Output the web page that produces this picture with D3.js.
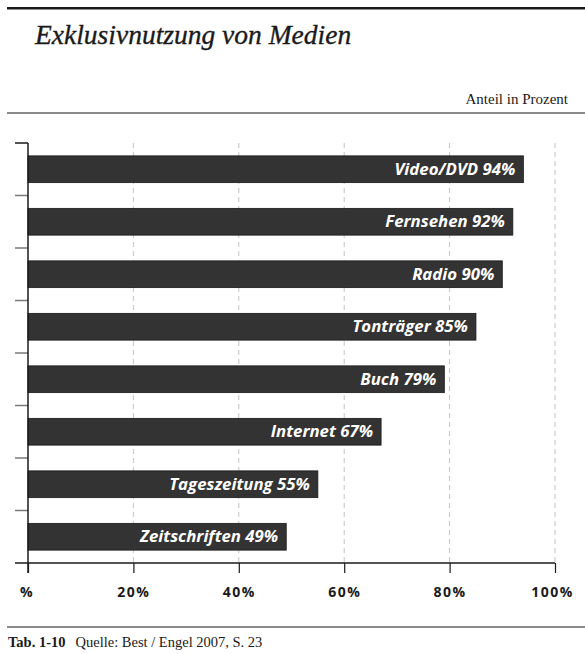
<!DOCTYPE html>
<html>
<head>
<meta charset="utf-8">
<script src="https://cdn.jsdelivr.net/npm/d3@7"></script>
<style>
  html, body { margin: 0; padding: 0; background: #fff; }
  svg { display: block; }
</style>
</head>
<body>
<script>
// Media categories and their share of exclusive use (percent)
const categories = ["Video/DVD", "Fernsehen", "Radio", "Tonträger", "Buch", "Internet", "Tageszeitung", "Zeitschriften"];
const values = [94, 92, 90, 85, 79, 67, 55, 49];
const tickValues = [0, 20, 40, 60, 80, 100];
const tickLabels = ["%", "20%", "40%", "60%", "80%", "100%"];

const W = 585, H = 654;
const svg = d3.select("body").append("svg").attr("width", W).attr("height", H);

const serif = "'Liberation Serif', 'DejaVu Serif', serif";
const sans = "'Open Sans', 'DejaVu Sans', sans-serif";

// Header rules and titles
svg.append("rect").attr("x", 7).attr("y", 7).attr("width", W - 7).attr("height", 2.5).attr("fill", "#1a1a1a");
svg.append("text").attr("x", 35).attr("y", 44)
  .attr("font-family", serif).attr("font-style", "italic").attr("font-size", 27.5)
  .attr("fill", "#1a1a1a").attr("stroke", "#1a1a1a").attr("stroke-width", 0.35)
  .text("Exklusivnutzung von Medien");
svg.append("text").attr("x", 568).attr("y", 104).attr("text-anchor", "end")
  .attr("font-family", serif).attr("font-size", 15).attr("fill", "#1a1a1a").text("Anteil in Prozent");
svg.append("rect").attr("x", 7).attr("y", 112).attr("width", W - 7).attr("height", 2).attr("fill", "#8a8a8a");

// Scales
const x0 = 28, x1 = 555, yTop = 143, yBot = 563;
const x = d3.scaleLinear().domain([0, 100]).range([x0, x1]);
const y = d3.scaleBand().domain(categories).range([yTop, yBot]).padding(0);
const barH = y.bandwidth() * 0.51;

// Dashed vertical gridlines
svg.append("g").selectAll("line").data(tickValues.filter(d => d > 0)).join("line")
  .attr("x1", d => x(d)).attr("x2", d => x(d))
  .attr("y1", yTop).attr("y2", yBot)
  .attr("stroke", "#c4c4c4").attr("stroke-width", 1).attr("stroke-dasharray", "5,4");

// Category separator ticks on the left
const sepY = categories.map(c => y(c));
svg.append("g").selectAll("line").data(sepY).join("line")
  .attr("x1", 15).attr("x2", x0).attr("y1", d => d).attr("y2", d => d)
  .attr("stroke", (d, i) => i === 0 ? "#1a1a1a" : "#7a7a7a").attr("stroke-width", 1.5);

// Bars
svg.append("g").selectAll("rect").data(categories).join("rect")
  .attr("x", x(0))
  .attr("y", c => y(c) + (y.bandwidth() - barH) / 2)
  .attr("width", (c, i) => x(values[i]) - x(0))
  .attr("height", barH)
  .attr("fill", "#333333").attr("stroke", "#1a1a1a").attr("stroke-width", 0.8);

// Labels inside bar ends
svg.append("g").selectAll("text").data(categories).join("text")
  .attr("x", (c, i) => x(values[i]) - 8)
  .attr("y", c => y(c) + y.bandwidth() / 2 + 5.5)
  .attr("text-anchor", "end")
  .attr("font-family", sans).attr("font-weight", 700).attr("font-style", "italic")
  .attr("font-size", 16.8).attr("fill", "#ffffff")
  .text((c, i) => `${c} ${values[i]}%`);

// Vertical axis line
svg.append("line").attr("x1", x0).attr("x2", x0).attr("y1", yTop).attr("y2", yBot + 10)
  .attr("stroke", "#1a1a1a").attr("stroke-width", 1.5);

// Horizontal axis with downward ticks
const xAxis = d3.axisBottom(x).tickValues(tickValues).tickSize(10)
  .tickFormat((d, i) => tickLabels[i]);
const gx = svg.append("g").attr("transform", `translate(0,${yBot})`).call(xAxis);
gx.select(".domain").remove();
gx.selectAll(".tick line").attr("stroke", "#1a1a1a").attr("stroke-width", 1.2);
gx.selectAll(".tick text")
  .attr("y", 24)
  .attr("font-family", sans).attr("font-weight", 700).attr("font-size", 14)
  .attr("letter-spacing", 1.5).attr("fill", "#1a1a1a");
gx.selectAll(".tick text").filter(d => d === 0).attr("dx", -1.5);
gx.selectAll(".tick text").filter(d => d === 100).attr("dx", -3);
svg.append("line").attr("x1", 15).attr("x2", x1).attr("y1", yBot).attr("y2", yBot)
  .attr("stroke", "#1a1a1a").attr("stroke-width", 1.5);

// Footer
svg.append("rect").attr("x", 7).attr("y", 626).attr("width", W - 7).attr("height", 2).attr("fill", "#8a8a8a");
const foot = svg.append("text").attr("x", 8).attr("y", 647)
  .attr("font-family", serif).attr("font-size", 14.5).attr("fill", "#1a1a1a");
foot.append("tspan").attr("font-weight", 700).text("Tab. 1-10");
foot.append("tspan").attr("dx", 10).text("Quelle: Best / Engel 2007, S. 23");
</script>
</body>
</html>
